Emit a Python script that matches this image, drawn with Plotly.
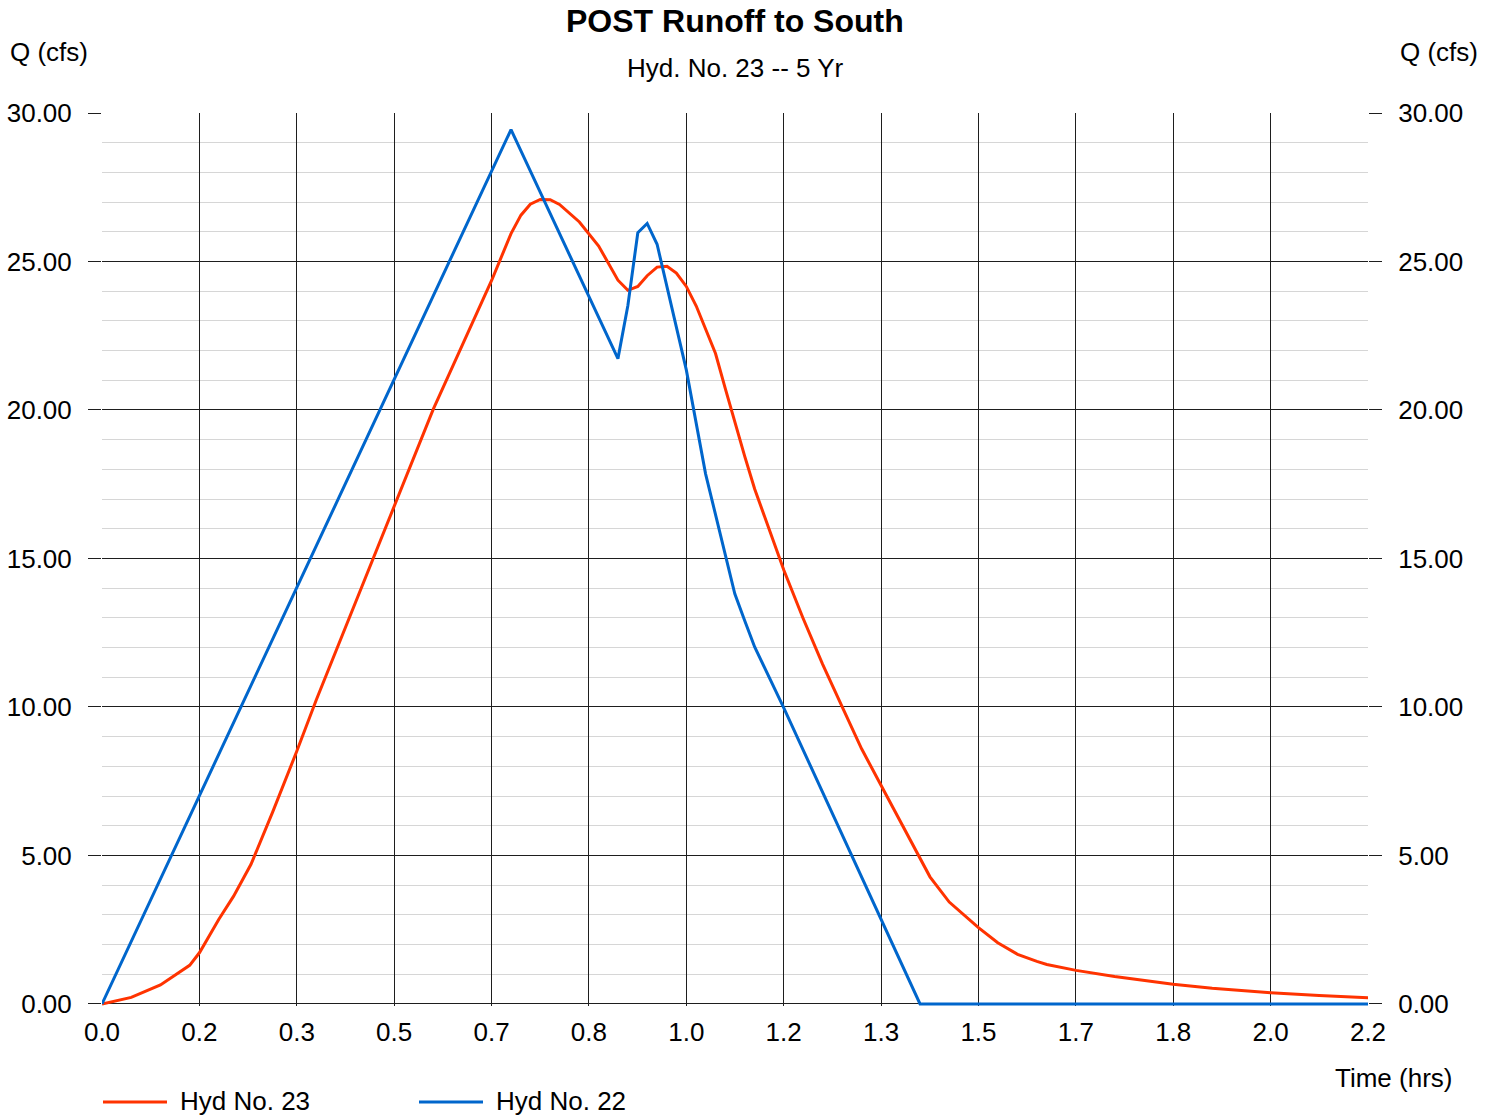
import plotly.graph_objects as go

# Hydrograph ordinates: time (hrs) and flow (cfs)
hyd23_time = [0.000, 0.050, 0.100, 0.150, 0.167, 0.200, 0.225, 0.255, 0.292, 0.333,
              0.367, 0.417, 0.467, 0.500, 0.533, 0.567, 0.617, 0.667, 0.700, 0.717,
              0.733, 0.750, 0.767, 0.783, 0.817, 0.850, 0.883, 0.900, 0.917, 0.933,
              0.950, 0.967, 0.983, 1.000, 1.017, 1.050, 1.067, 1.083, 1.100, 1.117,
              1.133, 1.167, 1.200, 1.233, 1.267, 1.300, 1.333, 1.367, 1.383, 1.400,
              1.417, 1.450, 1.500, 1.533, 1.567, 1.600, 1.617, 1.667, 1.733, 1.833,
              1.900, 2.000, 2.083, 2.167]
hyd23_flow = [0.00, 0.22, 0.64, 1.30, 1.73, 2.85, 3.62, 4.70, 6.46, 8.49,
              10.25, 12.68, 15.15, 16.73, 18.35, 20.03, 22.20, 24.37, 25.94, 26.56,
              26.93, 27.09, 27.08, 26.92, 26.33, 25.52, 24.37, 24.03, 24.16, 24.52,
              24.81, 24.84, 24.61, 24.16, 23.50, 21.90, 20.70, 19.58, 18.44, 17.34,
              16.46, 14.60, 12.98, 11.45, 9.99, 8.59, 7.37, 6.13, 5.50, 4.93,
              4.28, 3.43, 2.57, 2.06, 1.67, 1.43, 1.33, 1.13, 0.92, 0.66,
              0.53, 0.38, 0.28, 0.21]

hyd22_time = [0.000, 0.700, 0.883, 0.900, 0.917, 0.933, 0.950, 1.000, 1.033, 1.067,
              1.083, 1.100, 1.117, 1.167, 1.400, 2.167]
hyd22_flow = [0.00, 29.44, 21.73, 23.52, 25.97, 26.28, 25.58, 21.35, 17.85, 15.05,
              13.81, 12.90, 12.02, 9.96, 0.00, 0.00]

# Axis ticks: every 10 minutes on time, 5 cfs on flow
x_tickvals = [k / 6 for k in range(14)]
x_ticktext = ["0.0", "0.2", "0.3", "0.5", "0.7", "0.8", "1.0",
              "1.2", "1.3", "1.5", "1.7", "1.8", "2.0", "2.2"]
y_tickvals = [0, 5, 10, 15, 20, 25, 30]
y_ticktext = ["0.00", "5.00", "10.00", "15.00", "20.00", "25.00", "30.00"]

RED = "#ff3300"
BLUE = "#0066cc"
GRID = "#1e1e1e"
MINOR = "#d6d6d6"
FONT = "Liberation Sans, Arial, sans-serif"

fig = go.Figure()
fig.add_trace(go.Scatter(x=hyd23_time, y=hyd23_flow, mode="lines", name="Hyd No. 23",
                         line=dict(color=RED, width=3)))
fig.add_trace(go.Scatter(x=hyd22_time, y=hyd22_flow, mode="lines", name="Hyd No. 22",
                         line=dict(color=BLUE, width=3)))

yrange = [-0.07, 30]
axis_common = dict(range=yrange, tickvals=y_tickvals, ticktext=y_ticktext,
                   ticks="outside", ticklen=13, tickcolor=GRID, tickwidth=1,
                   zeroline=False, showline=False, automargin=False,
                   ticklabelstandoff=11,
                   tickfont=dict(size=26, color="black", family=FONT))

fig.update_layout(
    width=1497, height=1116,
    margin=dict(l=102, r=129, t=113, b=110, autoexpand=False),
    paper_bgcolor="white", plot_bgcolor="white",
    showlegend=False,
    font=dict(family=FONT, size=26, color="black"),
    xaxis=dict(range=[0, 13 / 6], tickvals=x_tickvals, ticktext=x_ticktext,
               showgrid=True, gridcolor=GRID, gridwidth=1, zeroline=False,
               showline=False, ticks="", ticklabelstandoff=8, automargin=False,
               tickfont=dict(size=26, color="black", family=FONT)),
    yaxis=dict(**axis_common, side="left", showgrid=True, gridcolor=GRID, gridwidth=1,
               minor=dict(dtick=1, tick0=0, showgrid=True, gridcolor=MINOR,
                          gridwidth=1, ticks="")),
    yaxis2=dict(**axis_common, side="right", overlaying="y", showgrid=False),
)

# Invisible anchor so the right-hand axis is rendered
fig.add_trace(go.Scatter(x=[0], y=[0], yaxis="y2", mode="lines", showlegend=False,
                         hoverinfo="skip", line=dict(width=0), opacity=0))

ann = []
ann.append(dict(text="<b>POST Runoff to South</b>", x=0.5, y=1, xref="paper", yref="paper",
                xanchor="center", yanchor="middle", yshift=92, showarrow=False,
                font=dict(size=32, family=FONT, color="black")))
ann.append(dict(text="Hyd. No. 23 -- 5 Yr", x=0.5, y=1, xref="paper", yref="paper",
                xanchor="center", yanchor="middle", yshift=45, showarrow=False,
                font=dict(size=26, family=FONT, color="black")))
ann.append(dict(text="Q (cfs)", x=0, y=1, xref="paper", yref="paper",
                xanchor="left", yanchor="middle", xshift=-94, yshift=61, showarrow=False,
                font=dict(size=26, family=FONT, color="black")))
ann.append(dict(text="Q (cfs)", x=1, y=1, xref="paper", yref="paper",
                xanchor="left", yanchor="middle", xshift=30, yshift=61, showarrow=False,
                font=dict(size=26, family=FONT, color="black")))
ann.append(dict(text="Time (hrs)", x=1, y=0, xref="paper", yref="paper",
                xanchor="right", yanchor="middle", xshift=86, yshift=-72, showarrow=False,
                font=dict(size=26, family=FONT, color="black")))

# Legend entries drawn below the plot
legend_items = [("Hyd No. 23", RED, 0), ("Hyd No. 22", BLUE, 316)]
shapes = []
for label, color, offset in legend_items:
    shapes.append(dict(type="line", xref="paper", yref="paper",
                       xsizemode="pixel", ysizemode="pixel", xanchor=0, yanchor=0,
                       x0=offset + 1, x1=offset + 65, y0=-96, y1=-96,
                       line=dict(color=color, width=3)))
    ann.append(dict(text=label, x=0, y=0, xref="paper", yref="paper",
                    xanchor="left", yanchor="middle", xshift=offset + 76, yshift=-95,
                    showarrow=False, font=dict(size=26, family=FONT, color="black")))

fig.update_layout(annotations=ann, shapes=shapes)

fig.write_html("out.html")
